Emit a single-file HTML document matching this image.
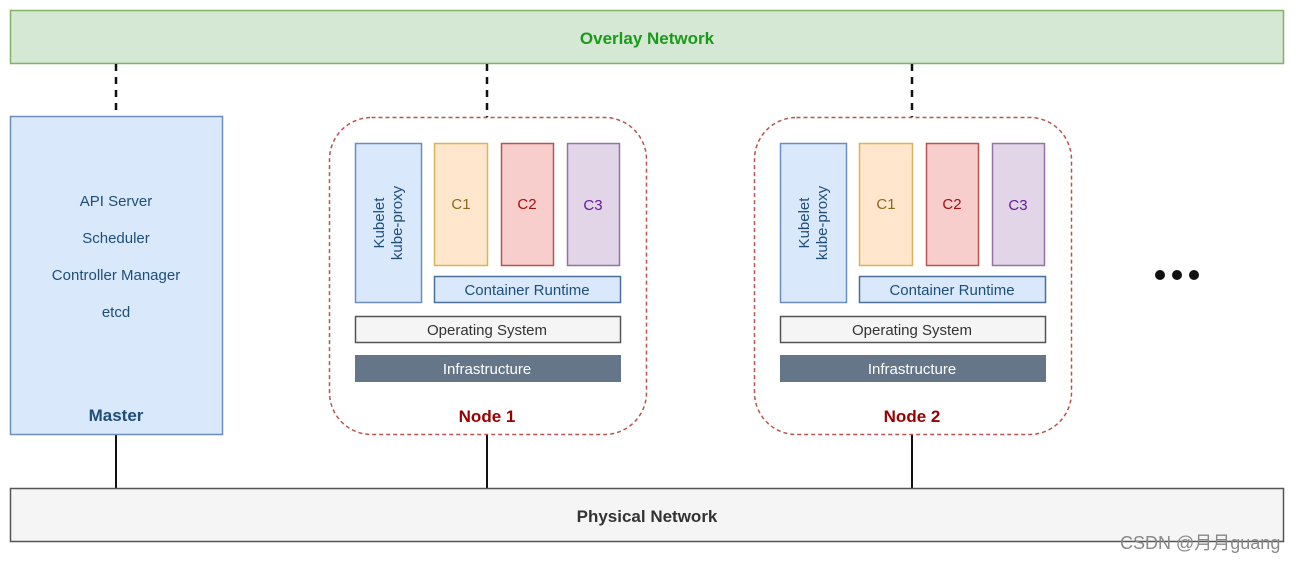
<!DOCTYPE html>
<html><head><meta charset="utf-8"><style>
html,body{margin:0;padding:0;background:#fff;}
svg{display:block;font-family:"Liberation Sans","Noto Sans CJK SC",sans-serif;}
</style></head><body>
<svg width="1301" height="562" viewBox="0 0 1301 562" xmlns="http://www.w3.org/2000/svg">
<rect x="10.5" y="10.5" width="1273" height="53" fill="#d5e8d4" stroke="#82b366" stroke-width="1.5"/>
<text x="647" y="44" text-anchor="middle" font-size="17" font-weight="bold" fill="#1a9a1a">Overlay Network</text>
<g stroke="#111" stroke-width="2.5" stroke-dasharray="7,6">
<line x1="116" y1="64" x2="116" y2="116"/>
<line x1="487" y1="64" x2="487" y2="117"/>
<line x1="912" y1="64" x2="912" y2="117"/>
</g>
<g stroke="#111" stroke-width="2">
<line x1="116" y1="434" x2="116" y2="488"/>
<line x1="487" y1="435" x2="487" y2="488"/>
<line x1="912" y1="435" x2="912" y2="488"/>
</g>
<rect x="10.5" y="116.5" width="212" height="318" fill="#dae8fc" stroke="#6c8ebf" stroke-width="1.5"/>
<g font-size="15" fill="#1f4e79" text-anchor="middle">
<text x="116" y="206">API Server</text>
<text x="116" y="243">Scheduler</text>
<text x="116" y="280">Controller Manager</text>
<text x="116" y="317">etcd</text>
</g>
<text x="116" y="421" text-anchor="middle" font-size="17" font-weight="bold" fill="#1f4e79">Master</text>

<g>
<rect x="329.5" y="117.5" width="317" height="317" rx="42" fill="#fff" stroke="#b85450" stroke-width="1.5" stroke-dasharray="4,3"/>
<rect x="355.5" y="143.5" width="66" height="159" fill="#dae8fc" stroke="#6c8ebf" stroke-width="1.5"/>
<text transform="translate(384,223) rotate(-90)" text-anchor="middle" font-size="15" fill="#1f4e79">Kubelet</text>
<text transform="translate(402,223) rotate(-90)" text-anchor="middle" font-size="15" fill="#1f4e79">kube-proxy</text>
<rect x="434.5" y="143.5" width="53" height="122" fill="#ffe6cc" stroke="#d6b656" stroke-width="1.5"/>
<text x="461" y="209" text-anchor="middle" font-size="15" fill="#8a6a1a">C1</text>
<rect x="501.5" y="143.5" width="52" height="122" fill="#f8cecc" stroke="#b85450" stroke-width="1.5"/>
<text x="527" y="209" text-anchor="middle" font-size="15" fill="#a01010">C2</text>
<rect x="567.5" y="143.5" width="52" height="122" fill="#e1d5e7" stroke="#9673a6" stroke-width="1.5"/>
<text x="593" y="210" text-anchor="middle" font-size="15" fill="#6a1a9a">C3</text>
<rect x="434.5" y="276.5" width="186" height="26" fill="#dae8fc" stroke="#4a6e9a" stroke-width="1.5"/>
<text x="527" y="295" text-anchor="middle" font-size="15" fill="#1f4e79">Container Runtime</text>
<rect x="355.5" y="316.5" width="265" height="26" fill="#f5f5f5" stroke="#555" stroke-width="1.5"/>
<text x="487" y="335" text-anchor="middle" font-size="15" fill="#333">Operating System</text>
<rect x="355" y="355" width="266" height="27" fill="#647687"/>
<text x="487" y="374" text-anchor="middle" font-size="15" fill="#fff">Infrastructure</text>
<text x="487" y="422" text-anchor="middle" font-size="17" font-weight="bold" fill="#990000">Node 1</text>
</g>
<g transform="translate(425,0)">
<rect x="329.5" y="117.5" width="317" height="317" rx="42" fill="#fff" stroke="#b85450" stroke-width="1.5" stroke-dasharray="4,3"/>
<rect x="355.5" y="143.5" width="66" height="159" fill="#dae8fc" stroke="#6c8ebf" stroke-width="1.5"/>
<text transform="translate(384,223) rotate(-90)" text-anchor="middle" font-size="15" fill="#1f4e79">Kubelet</text>
<text transform="translate(402,223) rotate(-90)" text-anchor="middle" font-size="15" fill="#1f4e79">kube-proxy</text>
<rect x="434.5" y="143.5" width="53" height="122" fill="#ffe6cc" stroke="#d6b656" stroke-width="1.5"/>
<text x="461" y="209" text-anchor="middle" font-size="15" fill="#8a6a1a">C1</text>
<rect x="501.5" y="143.5" width="52" height="122" fill="#f8cecc" stroke="#b85450" stroke-width="1.5"/>
<text x="527" y="209" text-anchor="middle" font-size="15" fill="#a01010">C2</text>
<rect x="567.5" y="143.5" width="52" height="122" fill="#e1d5e7" stroke="#9673a6" stroke-width="1.5"/>
<text x="593" y="210" text-anchor="middle" font-size="15" fill="#6a1a9a">C3</text>
<rect x="434.5" y="276.5" width="186" height="26" fill="#dae8fc" stroke="#4a6e9a" stroke-width="1.5"/>
<text x="527" y="295" text-anchor="middle" font-size="15" fill="#1f4e79">Container Runtime</text>
<rect x="355.5" y="316.5" width="265" height="26" fill="#f5f5f5" stroke="#555" stroke-width="1.5"/>
<text x="487" y="335" text-anchor="middle" font-size="15" fill="#333">Operating System</text>
<rect x="355" y="355" width="266" height="27" fill="#647687"/>
<text x="487" y="374" text-anchor="middle" font-size="15" fill="#fff">Infrastructure</text>
<text x="487" y="422" text-anchor="middle" font-size="17" font-weight="bold" fill="#990000">Node 2</text>
</g>
<g fill="#111">
<circle cx="1160" cy="275" r="5"/><circle cx="1177" cy="275" r="5"/><circle cx="1194" cy="275" r="5"/>
</g>
<rect x="10.5" y="488.5" width="1273" height="53" fill="#f5f5f5" stroke="#555" stroke-width="1.5"/>
<text x="647" y="522" text-anchor="middle" font-size="17" font-weight="bold" fill="#333">Physical Network</text>
<text x="1120" y="549" font-size="18" fill="#888">CSDN @月月guang</text>
</svg>
</body></html>
